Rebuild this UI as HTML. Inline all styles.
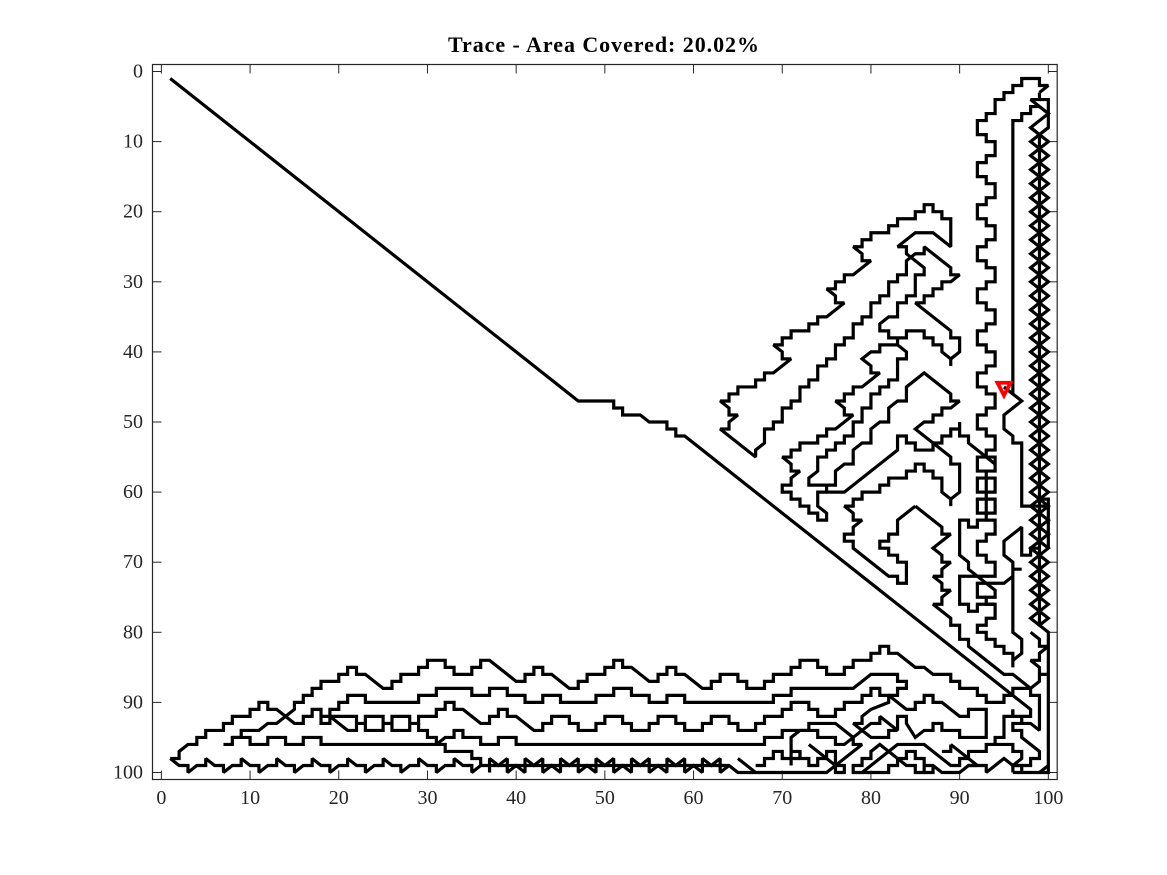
<!DOCTYPE html>
<html lang="en">
<head>
<meta charset="utf-8">
<title>Trace - Area Covered</title>
<style>
html,body{margin:0;padding:0;background:#fff;}
svg{display:block;}
text{font-family:"Liberation Serif","DejaVu Serif",serif;fill:#262626;}
</style>
</head>
<body>
<svg id="chart" xmlns="http://www.w3.org/2000/svg" width="1167" height="875" viewBox="0 0 1167 875">
<rect x="0" y="0" width="1167" height="875" fill="#fff"/>
<text x="603.5" y="52" text-anchor="middle" font-size="22" font-weight="bold" textLength="311" lengthAdjust="spacing" style="fill:#000">Trace - Area Covered: 20.02%</text>
<g id="ticks"></g>
<g id="trace"></g>
<g id="marker"></g>
<rect x="152.5" y="64.5" width="904.7" height="715" fill="none" stroke="#262626" stroke-width="1.2"/>
</svg>
<script>
const xTickValues = [0,10,20,30,40,50,60,70,80,90,100];
const yTickValues = [0,10,20,30,40,50,60,70,80,90,100];
const robotPosition = [95,45];

const traceDiagonal = [[1,1],[47,47],[51,47],[51,48],[52,48],[52,49],[54,49],[55,50],[57,50],[57,51],[58,51],[58,52],[59,52],[98,91],[98,92],[96,92],[96,91]];
const traceOuterWall = [[99,3],[100,2],[99,2],[99,1],[97,1],[97,2],[96,2],[96,3],[95,3],[95,4],[94,4],[94,6],[93,6],[93,7],[92,7],[92,9],[93,9],[93,10],[94,10],[94,12],[93,12],[93,13],[92,13],[92,15],[93,15],[93,16],[94,16],[94,18],[93,18],[93,19],[92,19],[92,21],[93,21],[93,22],[94,22],[94,24],[93,24],[93,25],[92,25],[92,27],[93,27],[93,28],[94,28],[94,30],[93,30],[93,31],[92,31],[92,33],[93,33],[93,34],[94,34],[94,36],[93,36],[93,37],[92,37],[92,39],[93,39],[93,40],[94,40],[94,42],[93,42],[93,43],[92,43],[92,45],[93,45],[93,46],[94,46],[94,48],[93,48],[93,49],[92,49],[92,51],[93,51],[93,52],[94,52],[94,54],[93,54],[93,55],[92,55],[92,57],[94,57],[94,55],[93,55]];
const traceBoxes = [[93,57],[93,58],[92,58],[92,60],[94,60],[94,58],[93,58],[93,60],[93,61],[92,61],[92,63],[94,63],[94,61],[93,61],[93,64],[92,64],[92,65],[91,65],[91,64],[90,64],[90,69],[91,70],[91,71],[94,74],[94,75],[93,75],[93,76],[94,76],[94,78],[93,78],[93,79],[92,79],[92,80],[93,80],[93,81],[94,81],[94,82],[95,82],[95,83],[96,83],[96,85]];
const traceBoxesUpper = [[93,64],[94,64],[94,66],[93,66],[93,67],[92,67],[92,69],[93,69],[93,70],[94,70],[94,72],[90,72],[90,76],[91,76],[91,77],[92,77],[92,76],[94,76]];
const traceBoxSide = [[96,72],[95,73],[92,73],[92,75],[93,75]];
const traceInnerVertical = [[99,3],[99,4],[98,4],[99,5],[98,5],[98,6],[97,6],[97,7],[96,7],[96,46],[97,47],[95,49],[95,51],[96,52],[96,53],[97,53],[97,62],[100,62]];
const traceLastStep = [[95,45],[96,46]];
const traceTopCap = [[99,4],[100,4],[100,8],[99,9],[98,8],[99,7],[100,6],[99,5]];
const traceInnerLower = [[96,84],[97,83],[97,81],[96,80],[96,71],[97,71],[96,71],[96,70],[95,69],[95,67],[97,65],[97,69],[98,69],[98,68],[99,68]];
const traceRightBox = [[99,61],[100,61],[100,68]];
const traceSpine = [[99,9],[99,79],[100,80],[100,99],[99,100]];
const traceZigLeft = [[98,8],[100,10],[99,11],[100,12],[98,14],[99,15],[98,16],[100,18],[99,19],[100,20],[98,22],[99,23],[98,24],[100,26],[99,27],[100,28],[98,30],[99,31],[98,32],[100,34],[99,35],[100,36],[98,38],[99,39],[98,40],[100,42],[99,43],[100,44],[98,46],[99,47],[98,48],[100,50],[99,51],[100,52],[98,54],[99,55],[98,56],[100,58],[99,59],[100,60],[98,62],[99,63],[98,64],[100,66],[99,67],[100,68],[98,70],[99,71],[98,72],[100,74],[99,75],[100,76],[98,78],[99,79]];
const traceZigRight = [[100,8],[98,10],[99,11],[98,12],[100,14],[99,15],[100,16],[98,18],[99,19],[98,20],[100,22],[99,23],[100,24],[98,26],[99,27],[98,28],[100,30],[99,31],[100,32],[98,34],[99,35],[98,36],[100,38],[99,39],[100,40],[98,42],[99,43],[98,44],[100,46],[99,47],[100,48],[98,50],[99,51],[98,52],[100,54],[99,55],[100,56],[98,58],[99,59],[98,60],[100,62],[99,63],[100,64],[98,66],[99,67],[98,68],[100,70],[99,71],[100,72],[98,74],[99,75],[98,76],[100,78],[99,79]];
const traceCornerRight = [[98,80],[99,81],[99,82],[100,82],[99,83],[99,84],[98,84],[99,85],[99,86],[100,86],[99,86],[99,87],[98,88]];
const traceLobeLow = [[85,62],[84,63],[83,64],[83,66],[82,66],[82,67],[81,67],[81,68],[82,68],[82,69],[83,69],[83,70],[84,70],[84,73],[83,73],[83,72],[82,72],[78,68],[78,67],[77,67],[77,66],[78,66],[78,65],[79,64],[78,64],[78,63],[77,62],[78,62],[78,61],[79,61],[79,60],[81,60],[81,59],[82,59],[82,58],[84,58],[84,57],[85,57],[85,56],[86,56],[86,57],[87,57],[87,58],[88,58],[88,60],[89,61],[90,60],[90,56],[89,56],[89,55],[85,51],[86,50],[87,50],[87,49],[88,49],[88,48],[89,48],[90,47],[89,47],[89,46],[86,43],[85,44],[84,45],[84,47],[83,47],[82,48],[82,50],[81,50],[80,51],[80,53],[79,53],[78,54],[78,56],[77,56],[76,57],[76,59],[73,59],[73,58],[74,57],[74,55],[75,55],[75,54],[76,54],[76,53],[77,53],[77,52],[78,52],[78,50],[79,50],[79,48],[80,48],[80,46],[81,46],[81,45],[82,45],[82,44],[83,44],[83,41],[84,41],[84,40],[83,39],[83,38],[82,38],[82,37],[81,37],[81,36],[82,35],[83,35],[83,33],[84,33],[84,32],[85,32],[85,29],[86,29],[86,28],[84,26],[84,25],[83,25],[85,23],[87,23],[89,25],[89,21],[88,21],[88,20],[87,20],[87,19],[86,19],[86,20],[85,20],[85,21],[83,21],[83,22],[82,22],[82,23],[80,23],[80,24],[79,24],[79,25],[78,25],[79,26],[79,27],[80,27],[78,29],[77,29],[77,30],[76,30],[76,31],[75,31],[76,32],[76,33],[77,33],[75,35],[74,35],[74,36],[73,36],[73,37],[71,37],[71,38],[70,38],[70,39],[69,39],[70,40],[70,41],[71,41],[69,43],[68,43],[68,44],[67,44],[67,45],[65,45],[65,46],[64,46],[64,47],[63,47],[64,48],[64,49],[65,49],[64,50],[64,51],[63,51],[67,55],[67,54],[68,53],[68,51],[69,51],[69,50],[70,50],[70,48],[71,48],[71,47],[72,47],[72,45],[73,45],[73,44],[74,44],[74,42],[75,42],[75,41],[76,41],[76,39],[77,39],[77,38],[78,38],[78,36],[79,36],[79,35],[80,35],[80,33],[81,33],[81,32],[82,32],[82,30],[83,30],[83,29],[84,29],[84,27],[85,26],[86,26],[86,25],[89,28],[89,29],[90,29],[89,30],[88,30],[88,31],[87,31],[87,32],[86,32],[86,33],[85,33],[89,37],[89,38],[90,38],[90,40],[89,41],[88,40],[88,39],[87,39],[87,38],[86,38],[86,37],[84,37],[84,38],[83,38]];
const traceStubOne = [[89,41],[89,42]];
const traceStubTwo = [[89,61],[89,62]];
const traceLobeMid = [[83,39],[81,39],[81,40],[80,40],[79,41],[80,42],[80,43],[81,43],[79,45],[78,45],[78,46],[77,46],[77,47],[76,47],[77,48],[77,49],[78,49],[76,51],[75,51],[75,52],[74,52],[74,53],[72,53],[72,54],[71,54],[71,55],[70,55],[71,56],[71,57],[72,57],[71,58],[71,59],[70,59],[70,60],[71,60],[71,61],[72,61],[72,62],[73,62],[73,63],[74,63],[74,64],[75,64],[75,63],[74,62],[74,60],[77,60],[83,54],[83,52],[84,52],[84,53],[85,53],[85,54],[87,54],[87,53],[88,53],[88,52],[89,52],[89,51],[90,51],[90,50],[90,52],[91,52],[91,53],[94,56]];
const traceLobeSeam = [[75,59],[75,60]];
const traceLobeEdge = [[85,62],[88,65],[88,66],[89,66],[88,67],[87,68],[88,69],[88,70],[89,70],[88,71],[88,72],[87,72],[88,73],[88,74],[89,74],[88,75],[88,76],[87,76],[89,78],[89,79],[90,79],[90,81],[91,81],[91,82],[95,86],[96,86],[97,87],[98,88],[98,89],[99,89],[99,94],[98,93],[96,93],[96,94],[97,94],[97,95],[99,97],[99,98],[98,98],[98,99],[96,99],[95,98],[94,99],[93,100],[93,99],[91,99],[90,100],[88,100],[87,99],[86,99]];
const traceCornerBits = [[97,92],[97,93]];
const traceCornerBitsTwo = [[96,91],[96,92],[95,92],[95,95],[94,95],[94,96],[93,96],[93,97],[91,97],[91,98],[90,98],[90,99],[89,99],[86,96],[83,96],[79,100],[78,100],[78,99],[79,99],[79,98],[80,98],[80,97],[81,96],[84,99],[85,99],[85,100],[86,100],[86,98],[85,98],[85,97],[84,97],[84,98],[83,98],[83,99],[82,99],[82,100],[78,100]];
const traceCornerBitsThree = [[94,96],[96,96],[96,97],[97,97],[97,98],[96,99]];
const traceCornerBottom = [[96,100],[96,99],[97,99],[97,100],[96,100],[100,100],[100,99]];
const traceCornerSlope = [[89,96],[92,99],[91,99]];
const traceCornerSlopeTwo = [[89,96],[89,97],[88,97]];
const traceBottomEdge = [[86,100],[87,100],[87,99]];
const traceTopRow = [[1,98],[2,98],[2,97],[3,96],[4,96],[4,95],[5,95],[5,94],[7,94],[7,93],[8,93],[8,92],[10,92],[10,91],[11,91],[11,90],[12,90],[12,91],[13,91],[15,93],[16,93],[16,92],[17,92],[17,91],[18,91],[18,93],[19,93],[19,91],[20,91],[20,90],[21,90],[21,89],[23,89],[23,90],[29,90],[29,89],[31,89],[31,88],[35,88],[35,89],[37,89],[37,88],[39,88],[39,89],[41,89],[41,90],[43,90],[43,89],[45,89],[45,90],[49,90],[49,89],[51,89],[51,88],[53,88],[53,89],[55,89],[55,90],[57,90],[57,89],[59,89],[59,90],[69,90],[69,89],[71,89],[71,88],[78,88],[80,86],[83,86],[83,87],[84,87],[84,88],[83,88],[83,89],[82,89],[84,91],[85,91],[85,90],[86,90],[86,89],[87,89],[87,90],[88,90],[90,92],[91,92],[91,91],[93,91],[93,95],[90,95],[90,94],[88,94],[88,93],[87,93],[87,94],[86,94],[85,95],[84,93],[84,92],[83,92],[83,94],[81,92],[81,93],[80,93],[77,96],[76,96],[76,95],[74,95],[74,94],[72,94],[71,95],[71,97],[72,97],[72,98],[73,98],[73,99],[74,99],[74,98],[75,98],[75,97],[76,97],[76,99],[73,96]];
const traceSecondRow = [[7,96],[8,96],[8,95],[9,95],[9,94],[11,94],[12,93],[13,93],[15,91],[15,90],[16,90],[16,89],[17,89],[17,88],[18,88],[18,87],[20,87],[20,86],[21,86],[21,85],[22,85],[22,86],[23,86],[25,88],[26,88],[26,87],[27,87],[27,86],[29,86],[29,85],[30,85],[30,84],[32,84],[32,85],[33,85],[33,86],[35,86],[35,85],[36,85],[36,84],[37,84],[40,87],[41,87],[41,86],[42,86],[42,85],[43,85],[43,86],[44,86],[46,88],[47,88],[47,87],[48,87],[48,86],[50,86],[50,85],[51,85],[51,84],[52,84],[52,85],[53,85],[55,87],[56,87],[56,86],[57,86],[57,85],[58,85],[58,86],[59,86],[61,88],[62,88],[62,87],[63,87],[63,86],[65,86],[65,87],[66,87],[66,88],[68,88],[68,87],[69,87],[69,86],[71,86],[71,85],[72,85],[72,84],[74,84],[74,85],[75,85],[75,86],[77,86],[77,85],[78,85],[78,84],[80,84],[80,83],[81,83],[81,82],[82,82],[82,83],[83,83],[85,85],[86,85],[87,86],[89,86],[89,87],[90,87],[90,88],[92,88],[92,89],[93,89],[93,90],[95,90],[95,89],[96,89],[96,88],[98,88]];
const traceStraightRow = [[8,95],[10,95],[10,96],[12,96],[12,95],[14,95],[14,96],[16,96],[16,95],[18,95],[18,96],[32,96],[32,97],[35,97],[35,98],[36,98],[36,99]];
const traceBoxRow = [[18,92],[22,92],[22,94],[21,94],[19,92]];
const traceBoxRowOne = [[22,93],[23,93],[23,92],[25,92],[25,94],[23,94],[23,93]];
const traceBoxRowTwo = [[25,93],[26,93],[26,92],[28,92],[28,94],[26,94],[26,93]];
const traceBoxRowThree = [[28,93],[29,93],[29,92],[31,92],[31,91],[32,91],[32,90],[33,90],[33,91],[34,91],[36,93],[37,93],[37,92],[38,92],[38,91],[39,91],[39,92],[40,92],[42,94],[43,94],[43,93],[44,93],[44,92],[46,92],[46,93],[47,93],[47,94],[49,94],[49,93],[50,93],[50,92],[52,92],[52,93],[53,93],[53,94],[55,94],[55,93],[56,93],[56,92],[58,92],[58,93],[59,93],[59,94],[61,94],[61,93],[62,93],[62,92],[64,92],[64,93],[65,93],[65,94],[67,94],[67,93],[68,93],[68,92],[70,92],[70,91],[71,91],[71,90],[73,90],[73,91],[74,91],[74,92],[76,92],[76,91],[77,91],[77,90],[79,90],[79,89],[80,89],[80,88],[81,88],[81,89],[82,89],[82,90],[80,91],[79,92],[79,93],[78,93],[80,95],[82,95],[82,94],[83,94]];
const traceBoxRowFour = [[29,93],[29,94],[30,94],[30,95],[31,95],[31,96],[32,95],[33,95],[33,94],[34,94],[34,95],[36,95],[36,96],[38,96],[38,95],[40,95],[40,96],[67,96],[68,96],[68,95],[70,95],[70,94],[73,94],[73,93],[76,93],[78,95],[78,96],[79,96],[76,99],[75,100],[65,100],[64,99],[36,99]];
const traceLowerLoop = [[76,99],[76,100],[77,100],[77,99],[76,99]];
const traceStubThree = [[71,97],[71,99]];
const traceStubFour = [[72,97],[72,98]];
const traceWave = [[1,98],[2,99],[3,99],[3,100],[4,99],[5,99],[5,98],[6,99],[7,99],[7,100],[8,99],[9,99],[9,98],[10,99],[11,99],[11,100],[12,99],[13,99],[13,98],[14,99],[15,99],[15,100],[16,99],[17,99],[17,98],[18,99],[19,99],[19,100],[20,99],[21,99],[21,98],[22,99],[23,99],[23,100],[24,99],[25,99],[25,98],[26,99],[27,99],[27,100],[28,99],[29,99],[29,98],[30,99],[31,99],[31,100],[32,99],[33,99],[33,98],[34,99],[35,99],[35,100],[36,99]];
const traceBowtieUpper = [[37,100],[37,98],[38,99],[39,98],[39,100],[40,99],[41,100],[41,98],[42,99],[43,98],[43,100],[44,99],[45,100],[45,98],[46,99],[47,98],[47,100],[48,99],[49,100],[49,98],[50,99],[51,98],[51,100],[52,99],[53,100],[53,98],[54,99],[55,98],[55,100],[56,99],[57,100],[57,98],[58,99],[59,98],[59,100],[60,99],[61,100],[61,98],[62,99],[63,98],[63,100],[64,99]];
const traceFinalSlope = [[65,98],[67,100]];
const traceFinalSteps = [[67,99],[68,99],[68,98],[69,98],[69,97],[70,97],[70,98],[72,98]];
const traceSegments = [traceDiagonal,traceOuterWall,traceBoxes,traceBoxesUpper,traceBoxSide,traceInnerVertical,traceLastStep,traceTopCap,traceInnerLower,traceRightBox,traceSpine,traceZigLeft,traceZigRight,traceCornerRight,traceLobeLow,traceStubOne,traceStubTwo,traceLobeMid,traceLobeSeam,traceLobeEdge,traceCornerBits,traceCornerBitsTwo,traceCornerBitsThree,traceCornerBottom,traceCornerSlope,traceCornerSlopeTwo,traceBottomEdge,traceTopRow,traceSecondRow,traceStraightRow,traceBoxRow,traceBoxRowOne,traceBoxRowTwo,traceBoxRowThree,traceBoxRowFour,traceLowerLoop,traceStubThree,traceStubFour,traceWave,traceBowtieUpper,traceFinalSlope,traceFinalSteps];

const NS = 'http://www.w3.org/2000/svg';
const plot = {left:152.5, right:1057.2, top:64.5, bottom:779.5, min:-1, max:101};
function xScale(v){ return plot.left + (v - plot.min) / (plot.max - plot.min) * (plot.right - plot.left); }
function yScale(v){ return plot.top + (v - plot.min) / (plot.max - plot.min) * (plot.bottom - plot.top); }
function tickLine(parent,x1,y1,x2,y2){
  const l = document.createElementNS(NS,'line');
  l.setAttribute('x1',x1); l.setAttribute('y1',y1); l.setAttribute('x2',x2); l.setAttribute('y2',y2);
  l.setAttribute('stroke','#262626'); l.setAttribute('stroke-width','1');
  
  
  parent.appendChild(l);
}
const tickGroup = document.getElementById('ticks');
xTickValues.forEach(function(v){
  const x = xScale(v);
  tickLine(tickGroup,x,plot.bottom,x,plot.bottom-9);
  tickLine(tickGroup,x,plot.top,x,plot.top+9);
  const t = document.createElementNS(NS,'text');
  t.setAttribute('x',x); t.setAttribute('y',804);
  t.setAttribute('text-anchor','middle'); t.setAttribute('font-size','20');
  
  
  t.textContent = String(v);
  tickGroup.appendChild(t);
});
yTickValues.forEach(function(v){
  const y = yScale(v);
  tickLine(tickGroup,plot.left,y,plot.left+9,y);
  tickLine(tickGroup,plot.right,y,plot.right-9,y);
  const t = document.createElementNS(NS,'text');
  t.setAttribute('x',143); t.setAttribute('y',y+6);
  t.setAttribute('text-anchor','end'); t.setAttribute('font-size','20');
  
  
  t.textContent = String(v);
  tickGroup.appendChild(t);
});
const traceGroup = document.getElementById('trace');
traceSegments.forEach(function(seg){
  const p = document.createElementNS(NS,'polyline');
  p.setAttribute('points', seg.map(function(pt){ return xScale(pt[0]).toFixed(2)+','+yScale(pt[1]).toFixed(2); }).join(' '));
  p.setAttribute('fill','none'); p.setAttribute('stroke','#000'); p.setAttribute('stroke-width','3.2');
  p.setAttribute('stroke-linejoin','miter'); p.setAttribute('stroke-miterlimit','2');
  
  
  traceGroup.appendChild(p);
});
const markerGroup = document.getElementById('marker');
const mx = xScale(robotPosition[0]);
const my = yScale(robotPosition[1]);
const tri = document.createElementNS(NS,'polygon');
tri.setAttribute('points',[(mx-6.5)+','+(my-4.2),(mx+6.5)+','+(my-4.2),mx+','+(my+8.5)].join(' '));
tri.setAttribute('fill','none'); tri.setAttribute('stroke','#f00'); tri.setAttribute('stroke-width','3.8');


markerGroup.appendChild(tri);
</script>
</body>
</html>
